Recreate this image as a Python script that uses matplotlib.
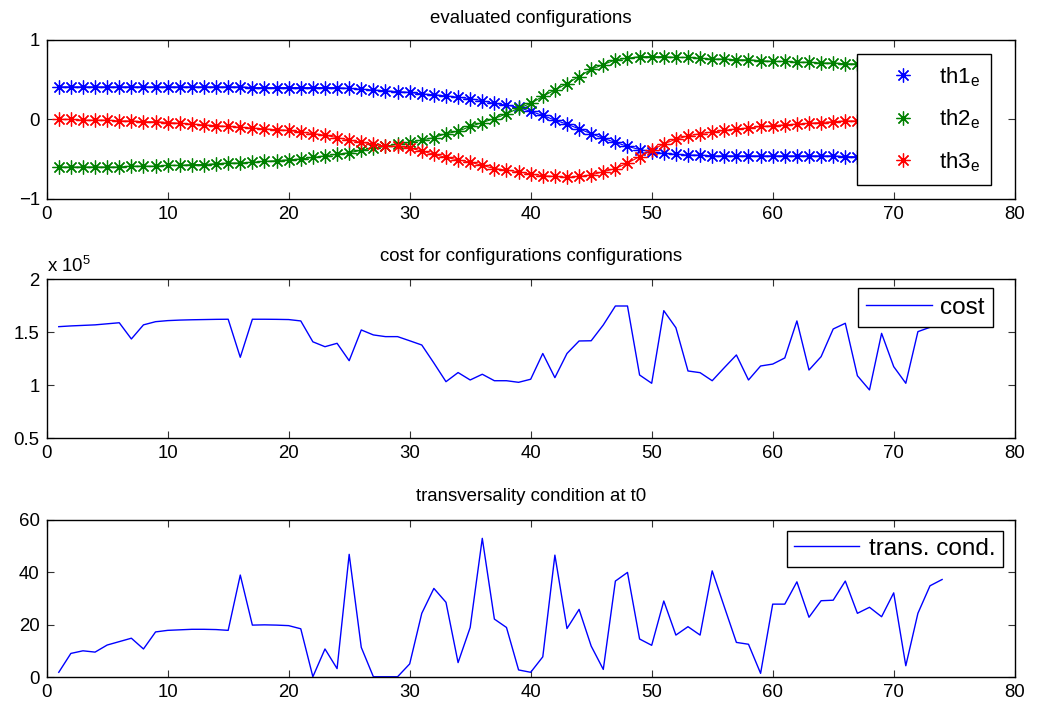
import numpy as np
import matplotlib
matplotlib.use("Agg")
import matplotlib.pyplot as plt

plt.rcParams['font.family'] = ['Liberation Sans', 'DejaVu Sans']
plt.rcParams['font.size'] = 13.4
plt.rcParams['mathtext.fontset'] = 'custom'
plt.rcParams['mathtext.rm'] = 'Liberation Sans'
plt.rcParams['mathtext.it'] = 'Liberation Sans'

# ============================================
# DATA
# ============================================
t = np.arange(1, 75)

th1 = [0.41, 0.41, 0.41, 0.41, 0.41, 0.41, 0.41, 0.41, 0.41, 0.41,
       0.41, 0.41, 0.41, 0.41, 0.41, 0.41, 0.40, 0.40, 0.40, 0.40,
       0.40, 0.40, 0.40, 0.40, 0.39, 0.38, 0.37, 0.36, 0.35, 0.34,
       0.32, 0.31, 0.295, 0.28, 0.26, 0.235, 0.20, 0.18, 0.15, 0.10,
       0.05, -0.01, -0.06, -0.12, -0.18, -0.24, -0.29, -0.34, -0.38, -0.41,
       -0.43, -0.44, -0.45, -0.45, -0.46, -0.46, -0.46, -0.46, -0.46, -0.46,
       -0.46, -0.46, -0.46, -0.46, -0.46, -0.47, -0.47, -0.47, -0.47, -0.47,
       -0.47, -0.47, -0.47, -0.47]

th2 = [-0.60, -0.60, -0.60, -0.60, -0.60, -0.60, -0.59, -0.59, -0.59, -0.58,
       -0.58, -0.57, -0.57, -0.56, -0.55, -0.55, -0.54, -0.53, -0.52, -0.51,
       -0.50, -0.48, -0.46, -0.44, -0.42, -0.39, -0.36, -0.34, -0.31, -0.29,
       -0.26, -0.23, -0.18, -0.15, -0.09, -0.04, 0.01, 0.07, 0.14, 0.20,
       0.29, 0.37, 0.45, 0.54, 0.63, 0.69, 0.75, 0.77, 0.79, 0.79,
       0.79, 0.78, 0.78, 0.77, 0.76, 0.76, 0.75, 0.75, 0.74, 0.73,
       0.73, 0.72, 0.72, 0.71, 0.71, 0.70, 0.70, 0.70, 0.69, 0.69,
       0.69, 0.69, 0.68, 0.68]

th3 = [0.00, 0.00, -0.01, -0.01, -0.01, -0.02, -0.02, -0.03, -0.03, -0.04,
       -0.05, -0.06, -0.07, -0.08, -0.09, -0.10, -0.11, -0.12, -0.13, -0.14,
       -0.16, -0.18, -0.20, -0.23, -0.26, -0.29, -0.31, -0.34, -0.34, -0.36,
       -0.40, -0.44, -0.48, -0.51, -0.54, -0.58, -0.62, -0.64, -0.66, -0.69,
       -0.71, -0.72, -0.73, -0.72, -0.70, -0.66, -0.62, -0.55, -0.47, -0.39,
       -0.31, -0.25, -0.21, -0.18, -0.16, -0.14, -0.12, -0.11, -0.09, -0.08,
       -0.07, -0.06, -0.05, -0.04, -0.03, -0.02, -0.02, -0.01, -0.01, -0.01,
       0.00, 0.00, 0.00, 0.00]

# cost in units of 1e5
cost = [1.553, 1.56, 1.565, 1.57, 1.58, 1.59, 1.437, 1.57, 1.60, 1.61,
        1.615, 1.618, 1.62, 1.622, 1.623, 1.264, 1.623, 1.623, 1.622, 1.62,
        1.607, 1.41, 1.364, 1.396, 1.232, 1.522, 1.475, 1.459, 1.459, 1.42,
        1.38, 1.21, 1.034, 1.12, 1.05, 1.104, 1.043, 1.043, 1.028, 1.057,
        1.30, 1.072, 1.30, 1.418, 1.42, 1.569, 1.748, 1.748, 1.097, 1.019,
        1.704, 1.543, 1.135, 1.119, 1.043, 1.166, 1.286, 1.05, 1.182, 1.20,
        1.258, 1.607, 1.144, 1.27, 1.531, 1.585, 1.09, 0.956, 1.49, 1.176,
        1.019, 1.506, 1.547, 1.56]

trans = [1.9, 9.1, 10.1, 9.6, 12.3, 13.6, 14.9, 10.8, 17.3, 17.9,
         18.1, 18.3, 18.3, 18.2, 17.9, 39.0, 19.9, 20.0, 19.9, 19.7,
         18.5, 0.2, 10.8, 3.3, 46.9, 11.4, 0.2, 0.2, 0.2, 5.1,
         24.4, 33.9, 28.6, 5.6, 19.0, 53.0, 22.2, 19.0, 2.8, 1.9,
         7.8, 46.6, 18.6, 25.9, 11.9, 3.0, 36.7, 40.0, 14.6, 12.2,
         29.1, 16.1, 19.3, 16.1, 40.6, 26.9, 13.3, 12.6, 1.5, 27.9,
         27.9, 36.4, 22.9, 29.2, 29.4, 36.7, 24.4, 26.7, 23.1, 32.2,
         4.4, 24.4, 34.9, 37.3]

th_labels = [r'th1$_\mathregular{e}$', r'th2$_\mathregular{e}$', r'th3$_\mathregular{e}$']
th_colors = ['#0000ff', '#008000', '#ff0000']
x_ticks = [0, 10, 20, 30, 40, 50, 60, 70, 80]

# ============================================
# FIGURE
# ============================================
fig = plt.figure(figsize=(10.37, 7.13), dpi=100)
ax1 = fig.add_axes([0.045, 0.7213, 0.9335, 0.2226])
ax2 = fig.add_axes([0.045, 0.3853, 0.9335, 0.2230])
ax3 = fig.add_axes([0.045, 0.0501, 0.9335, 0.2206])

asterisk = (8, 2, 0)


def matlab_style(ax):
    ax.set_xlim(0, 80)
    ax.set_xticks(x_ticks)
    ax.tick_params(direction='in', length=5, width=0.8, top=True, right=True,
                   labelsize=13.4, pad=5, color='#333333')
    for s in ax.spines.values():
        s.set_linewidth(1.0)
        s.set_color('black')


def legend_box(ax, anchor, **kw):
    leg = ax.legend(loc='upper right', bbox_to_anchor=anchor, borderaxespad=0,
                    fancybox=False, framealpha=1, edgecolor='black', **kw)
    leg.get_frame().set_linewidth(1.0)
    return leg


# 1. evaluated configurations
for th, lab, col in zip([th1, th2, th3], th_labels, th_colors):
    ax1.plot(t, th, '-', color=col, linewidth=0.8)
    ax1.plot(t, th, linestyle='none', marker=asterisk, markersize=10,
             markeredgewidth=0.9, color=col, label=lab)
matlab_style(ax1)
ax1.set_ylim(-1, 1)
ax1.set_yticks([-1, 0, 1])
ax1.set_title('evaluated configurations', fontsize=13.4, pad=12)
legend_box(ax1, (0.9755, 0.912), fontsize=16, handlelength=3.2,
           labelspacing=0.85, handletextpad=0.0, borderpad=0.5)

# 2. cost
ax2.plot(t, cost, '-', color='#0000ff', linewidth=1.0, label='cost')
matlab_style(ax2)
ax2.set_ylim(0.5, 2)
ax2.set_yticks([0.5, 1, 1.5, 2])
ax2.set_yticklabels(['0.5', '1', '1.5', '2'])
ax2.set_title('cost for configurations configurations', fontsize=13.4, pad=13)
ax2.text(0.0, 1.02, r'x 10$^\mathregular{5}$', transform=ax2.transAxes,
         fontsize=13.4, ha='left', va='bottom')
legend_box(ax2, (0.978, 0.943), fontsize=17.5, handlelength=2.7,
           handletextpad=0.35, borderpad=0.35)

# 3. transversality condition
ax3.plot(t, trans, '-', color='#0000ff', linewidth=1.0, label='trans. cond.')
matlab_style(ax3)
ax3.set_ylim(0, 60)
ax3.set_yticks([0, 20, 40, 60])
ax3.set_title('transversality condition at t0', fontsize=13.4, pad=14)
legend_box(ax3, (0.988, 0.932), fontsize=17.5, handlelength=2.7,
           handletextpad=0.4, borderpad=0.3)

plt.savefig('out.png', dpi=100)
